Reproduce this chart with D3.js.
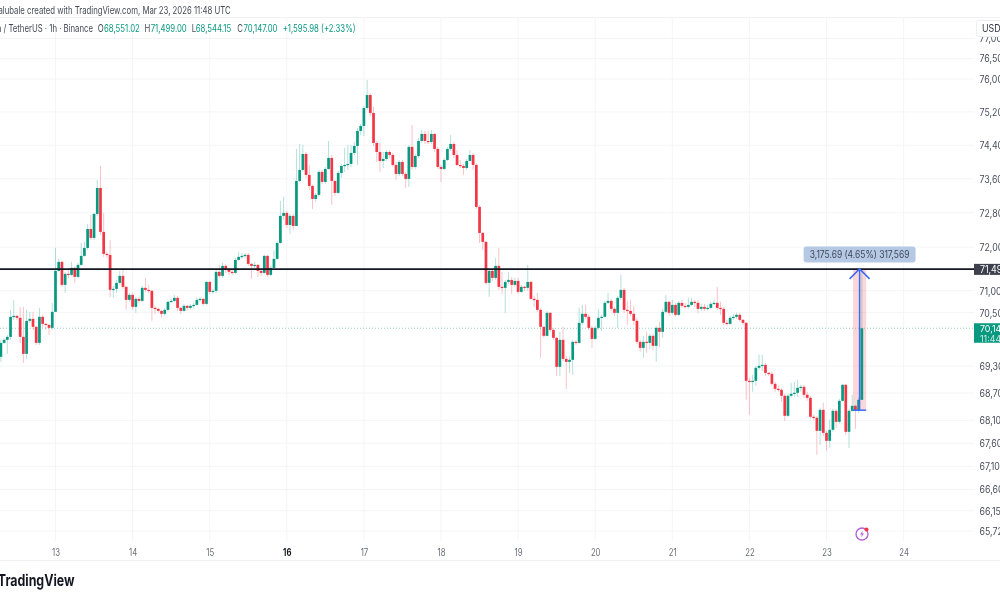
<!DOCTYPE html>
<html><head><meta charset="utf-8">
<script src="https://cdnjs.cloudflare.com/ajax/libs/d3/7.8.5/d3.min.js"></script>
<style>
html,body{margin:0;padding:0;background:#fff;overflow:hidden}
svg{display:block;filter:blur(0.35px)}
text{font-family:Inter,"Noto Sans",sans-serif}
</style></head><body><svg id="c" width="1000" height="600"></svg>
<script>
// Hourly candles, first at Mar 12 07:00 UTC, last at Mar 23 11:00 UTC. Each open is the previous close.
const firstHourFromMar13 = -17;
const firstOpen = 69505;
const closes = [
69818,69886,69953,70405,70427,70382,69953,69572,70314,70359,70179,69818,70405,70246,70224,70156,70518,
71453,71660,71132,71384,71361,71522,71315,71591,71798,71982,72423,72214,72774,73384,72354,71844,71821,71018,71041,71178,71338,71087,70790,70904,
70631,70813,70767,71064,71018,70995,70608,70586,70540,70473,70563,70745,70767,70836,70608,70540,70654,70608,70654,70676,70790,70813,70699,71200,
70972,70995,71430,71338,71568,71476,71430,71407,71706,71775,71798,71821,71614,71568,71591,71453,71407,71798,71361,71522,71729,72098,72727,72797,
72516,72727,72493,73549,73810,74190,73692,73431,73125,73220,73763,73526,73834,74095,73549,73267,73739,73905,73928,73952,74214,74382,74741,74861,
75295,75610,75175,74453,74238,74023,74071,74238,74166,73928,73715,74000,73715,73597,74358,73881,74142,74501,74669,74501,74477,74669,74310,73881,
73834,74047,74310,74429,74166,73928,73905,73857,74023,74166,73928,72938,72330,72122,71178,71453,71292,71568,71087,71064,71200,71246,71132,71223,
70972,71087,71064,71200,70813,70790,70563,70179,69976,70495,70111,69931,69282,69886,69460,69393,69438,69841,69818,70269,70473,70405,70156,69908,
70156,70382,70405,70722,70767,70586,70495,70836,71018,70563,70540,70473,70314,69841,69706,69841,69818,69976,69751,70156,70066,70518,70745,70495,
70676,70450,70722,70654,70631,70676,70745,70722,70586,70631,70586,70608,70699,70722,70608,70586,70269,70246,70382,70405,70450,70336,70269,68971,
68949,68971,69260,69304,69326,69148,69126,68905,68794,68772,68640,68200,68640,68684,68706,68816,68838,68662,68595,68178,68156,67871,68331,67827,
67653,67893,68309,68068,68529,68883,67849,68309,68419,68309,68551,70147];
const highs = [
69886,69931,69998,70563,70790,70450,70631,70631,70563,70518,70518,70201,70608,70450,70269,70224,70722,
71982,71729,71683,71430,71476,71660,71545,71637,72098,72122,72540,72750,72797,73573,73905,72797,71890,72168,71109,71246,71453,71476,71109,70950,
70950,70858,70858,71109,71292,71132,71018,70654,70608,70563,70608,70767,70813,70904,70881,70631,70699,70676,70699,70722,70836,70858,70836,71223,
71223,71041,71476,71591,71637,71614,71522,71476,71752,71890,71867,71867,71867,71637,71660,71614,71499,71821,71821,71568,71936,72145,73078,73172,
72844,72774,72774,74310,74429,74405,74238,73928,73455,73267,73810,73810,73881,74501,74166,73573,73786,73952,74334,74405,74405,74477,74813,74909,
75343,75976,75659,75319,74501,74453,74238,74286,74286,74214,74000,74047,74047,73763,74405,74885,74190,74573,74765,74741,74741,74765,74693,74358,
73928,74095,74358,74645,74477,74286,74047,73952,74071,74286,74214,73976,72985,72354,72145,71476,71476,71752,71982,71430,71246,71430,71315,71292,
71292,71132,71109,71591,71223,70881,70950,70608,70201,70540,70518,70156,69953,70066,70179,69527,69505,69886,69886,70608,70676,70676,70450,70201,
70201,70586,70450,70767,70950,70813,70631,70881,71361,71064,70767,70790,70654,70382,69886,69976,70066,70021,70021,70201,70291,70586,70904,70767,
70790,70722,70767,70790,70722,70836,70836,70790,70790,70699,70699,70676,70745,70790,71087,70745,70631,70336,70427,70473,70495,70495,70359,70291,
69038,69104,69304,69550,69550,69371,69170,69170,68949,68860,68816,68684,68684,68927,68949,68993,68883,68883,68728,68640,68222,68200,68375,68485,
67871,68112,68353,68353,68573,68905,68905,68353,68662,68441,68600,71499];
const lows = [
69393,69796,69572,69886,70336,70336,69818,69371,69460,70269,70111,69773,69773,70156,70111,69998,70111,
70518,71430,71087,70950,71292,71338,71178,71292,71568,71775,71936,72168,72168,72727,72284,71775,71752,70858,70836,70950,71132,71041,70563,70745,
70563,70495,70722,70745,70972,70950,70314,70473,70495,70382,70427,70518,70722,70745,70540,70473,70518,70540,70563,70586,70654,70745,70654,70676,
70927,70927,70950,71292,71292,71407,71361,71361,71384,71683,71729,71752,71568,71269,71522,71315,71338,71384,71315,71338,71499,71706,72075,72633,
72447,72307,72400,72493,73526,73763,73621,73337,72891,73055,73172,73478,73478,73810,72985,73196,73243,73621,73763,73810,73881,74166,73928,74645,
74621,75247,75102,74382,74000,73763,73857,74023,74095,73881,73573,73668,73668,73384,73407,73810,73834,74095,74453,74429,74429,74429,74238,73834,
73526,73810,74023,74262,74095,73905,73857,73692,73810,74023,73810,72891,72098,71936,71132,70858,71223,71246,71018,70927,70495,71155,70927,71087,
70927,70950,70995,70995,70790,70631,70518,69483,69931,69953,70066,69886,69082,69082,69416,68794,69148,69104,69773,69796,70224,70359,70111,69706,
69886,70111,70089,70382,70699,70540,70427,70156,70790,70495,70224,70427,70224,69796,69616,69483,69594,69683,69661,69393,69728,69931,70473,70427,
70450,70405,70427,70608,70586,70586,70654,70631,70495,70540,70540,70563,70586,70676,70563,70450,70224,70201,70224,70336,70359,70291,70224,68551,
68222,68728,68860,69215,69193,69082,69082,68860,68728,68728,68507,68090,68178,68595,68617,68617,68728,68595,68529,68134,68112,67350,67566,67762,
67436,67501,67849,67937,68024,68507,67784,67501,68287,67915,68265,68544];

const dayTicks = [13,14,15,16,17,18,19,20,21,22,23,24];
const boldDay = 16;
const priceTicks = [77000,76500,76000,75200,74400,73600,72800,72000,71000,70500,69300,68700,68100,67600,67100,66600,66150,65720];
const levelPrice = 71499;
const lastPrice = 70147;
const lastPriceLabel = "70,147.00";
const countdownLabel = "11:44";
const levelLabel = "71,499.00";
const measureLow = 68323.31;
const measureHour = 250.3;
const measureLabel = "3,175.69 (4.65%) 317,569";
const watermark = "alubale created with TradingView.com, Mar 23, 2026 11:48 UTC";
const symbolLabel = "n / TetherUS · 1h · Binance";
const ohlcLabels = [["O","68,551.02"],["H","71,499.00"],["L","68,544.15"],["C","70,147.00"]];
const changeLabel = "+1,595.98 (+2.33%)";

const UP="#089981", DOWN="#f23645", GRID="#f4f5f7", PANE_R=974;
const x = d3.scaleLinear().domain([0,24]).range([55.5,132.6]); // hours since Mar 13 00:00
const xDay = d => x((d-13)*24);
const y = d3.scaleLog().domain([76000,65720]).range([79,531]);
const svg = d3.select("#c");

const candles = closes.map((c,i)=>({h:firstHourFromMar13+i,o:i?closes[i-1]:firstOpen,c,hi:highs[i],lo:lows[i]}));

// pane grid and borders
const g = svg.append("g");
g.selectAll(".vg").data(dayTicks).join("line").attr("x1",d=>xDay(d)).attr("x2",d=>xDay(d)).attr("y1",18).attr("y2",541).attr("stroke",GRID);
g.selectAll(".hg").data(priceTicks).join("line").attr("x1",0).attr("x2",PANE_R).attr("y1",d=>y(d)).attr("y2",d=>y(d)).attr("stroke",GRID);
svg.append("line").attr("x1",0).attr("x2",1000).attr("y1",17.5).attr("y2",17.5).attr("stroke","#f0f1f3");
svg.append("line").attr("x1",0).attr("x2",1000).attr("y1",560.5).attr("y2",560.5).attr("stroke","#f0f1f3");

// current price dotted line
svg.append("line").attr("x1",0).attr("x2",PANE_R).attr("y1",y(lastPrice)).attr("y2",y(lastPrice)).attr("stroke","#089981").attr("stroke-opacity",.45).attr("stroke-dasharray","1 2");

// measure tool background
const mx = x(measureHour);
svg.append("rect").attr("x",mx-6.6).attr("width",13.2).attr("y",y(levelPrice)).attr("height",y(measureLow)-y(levelPrice)).attr("fill","#f23645").attr("fill-opacity",.2);

// candles
const cg = svg.append("g");
cg.selectAll(".w").data(candles).join("line").attr("x1",d=>x(d.h)).attr("x2",d=>x(d.h)).attr("y1",d=>y(d.hi)).attr("y2",d=>y(d.lo))
 .attr("stroke",d=>d.c>=d.o?UP:DOWN).attr("stroke-opacity",.3).attr("stroke-width",1);
cg.selectAll(".b").data(candles).join("rect").attr("x",d=>x(d.h)-1.35).attr("width",2.7)
 .attr("y",d=>Math.min(y(d.o),y(d.c))).attr("height",d=>Math.max(1.2,Math.abs(y(d.o)-y(d.c))))
 .attr("fill",d=>d.c>=d.o?UP:DOWN);

// horizontal level
svg.append("line").attr("x1",0).attr("x2",PANE_R).attr("y1",y(levelPrice)+.3).attr("y2",y(levelPrice)+.3).attr("stroke","#131722").attr("stroke-width",1.8);

// measure arrow + label
const blue="#3a6cf5", ty=y(levelPrice), by=y(measureLow);
svg.append("line").attr("x1",mx).attr("x2",mx).attr("y1",ty).attr("y2",by).attr("stroke",blue).attr("stroke-width",1.5);
svg.append("line").attr("x1",mx-6.6).attr("x2",mx+6.6).attr("y1",by).attr("y2",by).attr("stroke",blue).attr("stroke-width",1.5);
svg.append("path").attr("d",d3.line()([[mx-10,ty+10],[mx,ty],[mx+10,ty+10]])).attr("fill","none").attr("stroke",blue).attr("stroke-width",1.5);
svg.append("rect").attr("x",mx-56).attr("width",112).attr("y",ty-22.5).attr("height",16).attr("rx",3).attr("fill","#b5c9e5");
svg.append("text").attr("class","m").attr("x",mx).attr("y",ty-11).attr("text-anchor","middle").attr("font-size",10).attr("fill","#3d4757").text(measureLabel);

// lightning icon
const ic = svg.append("g").attr("transform","translate(862,534)");
ic.append("circle").attr("r",6).attr("fill","none").attr("stroke","#b45fd3").attr("stroke-width",1.3);
ic.append("path").attr("d","M1,-3.5L-2,0.5L0,0.5L-1,3.5L2,-0.5L0,-0.5Z").attr("fill","#b45fd3");
ic.append("circle").attr("cx",4.5).attr("cy",-4.5).attr("r",2).attr("fill","#f23645");

// price scale
const yAxis = d3.axisRight(y).tickValues(priceTicks).tickFormat(d3.format(",")).tickSize(0).tickPadding(0);
const ya = svg.append("g").attr("transform","translate(979.5,0)").call(yAxis);
ya.select(".domain").remove();
ya.selectAll("text").attr("class","s").attr("font-size",10.5).attr("fill","#4a4e5a");

// USDT box
svg.append("rect").attr("x",976.5).attr("y",20.5).attr("width",40).attr("height",16).attr("rx",2).attr("fill","#fff").attr("stroke","#eceef1");
svg.append("text").attr("class","s").attr("x",982).attr("y",32).attr("font-size",10.5).attr("fill","#333844").text("USDT");

// price tags
svg.append("rect").attr("x",974).attr("y",y(levelPrice)-5).attr("width",26).attr("height",11).attr("fill","#3d404d");
svg.append("text").attr("class","s").attr("x",980).attr("y",y(levelPrice)+4).attr("font-size",10.5).attr("fill","#fff").text(levelLabel);
svg.append("rect").attr("x",974).attr("y",y(lastPrice)-5).attr("width",26).attr("height",19.5).attr("fill",UP);
svg.append("text").attr("class","s2").attr("x",980).attr("y",y(lastPrice)+3.5).attr("font-size",9).attr("fill","#fff").text(lastPriceLabel);
svg.append("text").attr("class","s2").attr("x",980).attr("y",y(lastPrice)+13.5).attr("font-size",9).attr("fill","#cfeae4").text(countdownLabel);

// time axis
const xAxis = d3.axisBottom(d3.scaleLinear().domain([13,24]).range([xDay(13),xDay(24)])).tickValues(dayTicks).tickFormat(d=>d).tickSize(0).tickPadding(0);
const xa = svg.append("g").attr("transform","translate(0,547)").call(xAxis);
xa.select(".domain").remove();
xa.selectAll("text").attr("font-size",10.5).attr("fill",d=>d===boldDay?"#131722":"#6a6d78").attr("font-weight",d=>d===boldDay?700:400).attr("dy",0).attr("y",9);

// header texts
svg.append("text").attr("x",230.7).attr("y",14).attr("text-anchor","end").attr("font-size",10.5).attr("fill","#444954").text(watermark);
svg.append("text").attr("x",93).attr("y",32).attr("text-anchor","end").attr("font-size",10.5).attr("fill","#444954").text(symbolLabel);
const ohlcX=[[97.7,104],[144.5,150.7],[191.7,195.7],[237.3,243.5]];
ohlcLabels.forEach((p,i)=>{
  svg.append("text").attr("x",ohlcX[i][0]).attr("y",32).attr("font-size",10.5).attr("fill","#444954").text(p[0]);
  svg.append("text").attr("x",ohlcX[i][1]).attr("y",32).attr("font-size",10.5).attr("fill",UP).text(p[1]);
});
svg.append("text").attr("x",282.7).attr("y",32).attr("font-size",10.5).attr("fill",UP).text(changeLabel);

// logo
svg.append("text").attr("class","l").attr("x",74.5).attr("y",586).attr("text-anchor","end").attr("font-size",15.5).attr("font-weight",700).attr("fill","#131722").text("TradingView");

// The reference is squeezed horizontally: narrow every text about its anchor.
svg.selectAll("text").each(function(){
  const c = this.classList;
  const k = c.contains("m") ? 100/this.getComputedTextLength() : c.contains("l") ? 0.8 : c.contains("s") ? 0.84 : c.contains("s2") ? 0.98 : 0.74;
  const ax = +this.getAttribute("x") || 0;
  this.setAttribute("transform",`translate(${ax},0) scale(${k},1) translate(${-ax},0)`);
});
</script></body></html>
